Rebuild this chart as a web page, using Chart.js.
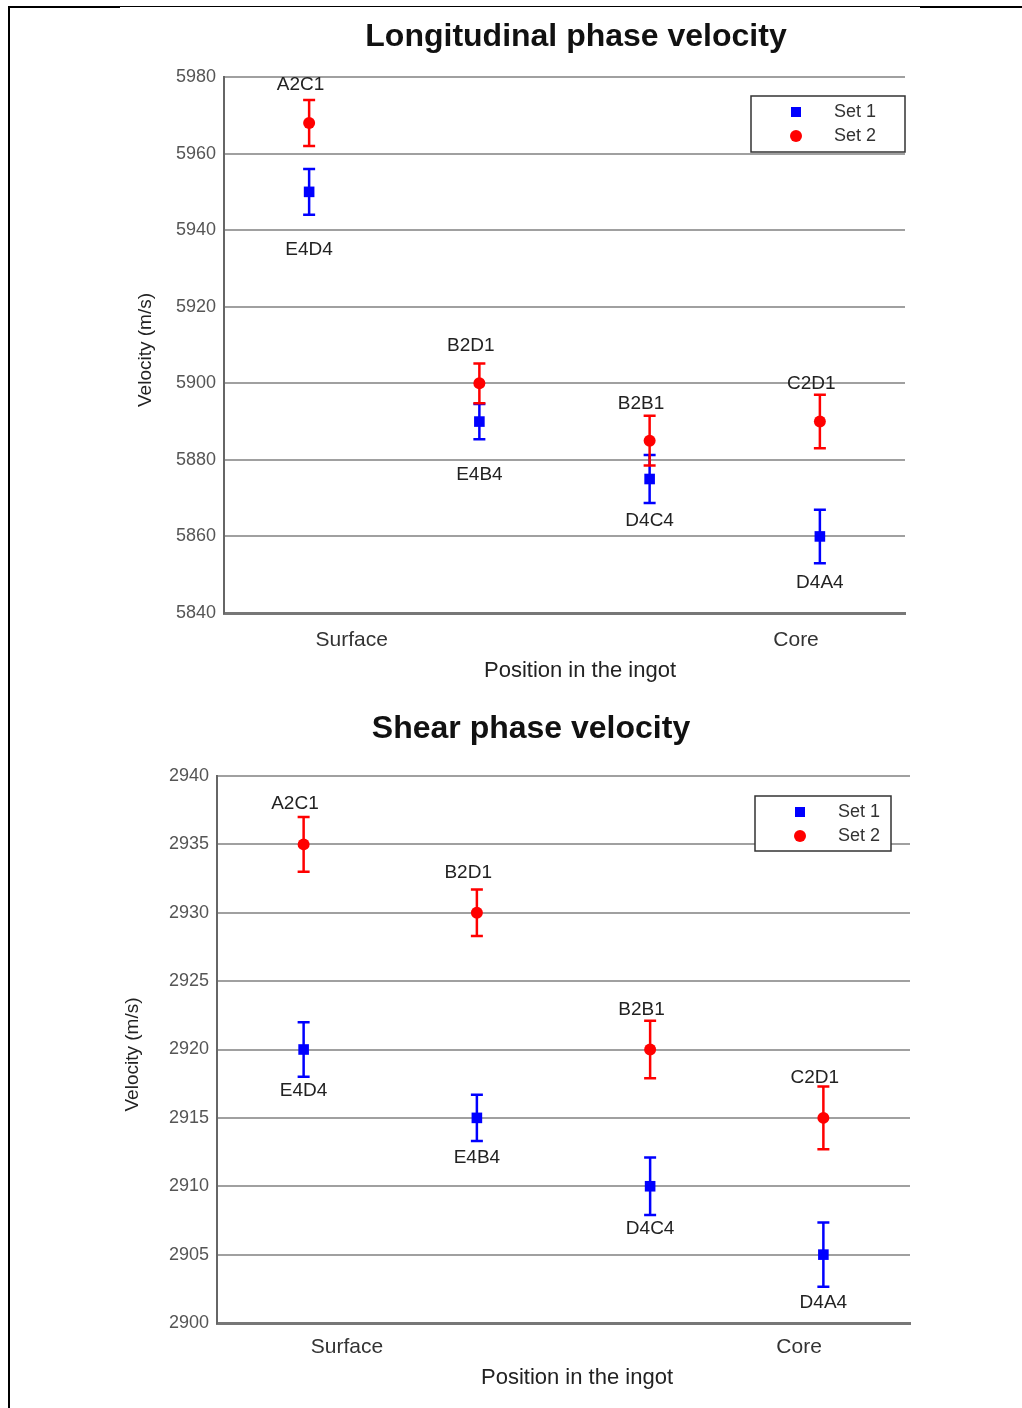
<!DOCTYPE html>
<html>
<head>
<meta charset="utf-8">
<script src="https://cdn.jsdelivr.net/npm/chart.js@4.4.1/dist/chart.umd.min.js"></script>
<style>
html, body { margin: 0; padding: 0; background: #fff; }
body { width: 1022px; height: 1408px; position: relative; overflow: hidden; }
.frame-top { position: absolute; left: 8px; top: 6px; width: 1014px; height: 1px; background: #000; }
.frame-top-l { position: absolute; left: 8px; top: 6px; width: 112px; height: 2px; background: #000; }
.frame-top-r { position: absolute; left: 920px; top: 6px; width: 102px; height: 2px; background: #000; }
.frame-left { position: absolute; left: 8px; top: 6px; width: 2px; height: 1402px; background: #000; }
canvas { position: absolute; left: 0; }
#longChart { top: 0; }
#shearChart { top: 690px; }
</style>
</head>
<body>
<div class="frame-top"></div>
<div class="frame-top-l"></div>
<div class="frame-top-r"></div>
<div class="frame-left"></div>
<canvas id="longChart" width="1022" height="690"></canvas>
<canvas id="shearChart" width="1022" height="718"></canvas>
<script>
// positions along the ingot (1 = outer ... 4 = centre)
const positions = [1, 2, 3, 4];
const regionNames = ['Surface', 'Core'];
const regionTickPos = [1.25, 3.86];
const seriesNames = ['Set 1', 'Set 2'];

// longitudinal velocity (m/s)
const longSet1 = [5950, 5890, 5875, 5860];
const longSet1Err = [6, 4.6, 6.3, 7];
const longSet1Names = ['E4D4', 'E4B4', 'D4C4', 'D4A4'];
const longSet1LabelY = [5934.8, 5876.1, 5864.1, 5847.9];

const longSet2 = [5968, 5900, 5885, 5890];
const longSet2Err = [6, 5.2, 6.5, 7];
const longSet2Names = ['A2C1', 'B2D1', 'B2B1', 'C2D1'];
const longSet2LabelY = [5977.9, 5909.8, 5894.6, 5899.8];

const longTicks = { min: 5840, max: 5980, step: 20 };

// shear velocity (m/s)
const shearSet1 = [2920, 2915, 2910, 2905];
const shearSet1Err = [2, 1.7, 2.1, 2.35];
const shearSet1Names = ['E4D4', 'E4B4', 'D4C4', 'D4A4'];
const shearSet1LabelY = [2917.0, 2912.1, 2906.9, 2901.5];

const shearSet2 = [2935, 2930, 2920, 2915];
const shearSet2Err = [2, 1.7, 2.1, 2.3];
const shearSet2Names = ['A2C1', 'B2D1', 'B2B1', 'C2D1'];
const shearSet2LabelY = [2937.95, 2932.9, 2922.9, 2917.9];

const shearTicks = { min: 2900, max: 2940, step: 5 };

const FONT = '"Liberation Sans", Arial, sans-serif';
const BLUE = '#0000ff', RED = '#ff0000';

// error bars drawn under the markers
const errorBarPlugin = {
    id: 'errorBars',
    beforeDatasetsDraw(chart) {
        const ctx = chart.ctx, ys = chart.scales.y;
        chart.data.datasets.forEach((ds, di) => {
            const meta = chart.getDatasetMeta(di);
            ctx.save();
            ctx.strokeStyle = ds.borderColor;
            ctx.lineWidth = 2.5;
            meta.data.forEach((pt, i) => {
                const v = ds.data[i].y, e = ds.errors[i];
                const top = ys.getPixelForValue(v + e), bot = ys.getPixelForValue(v - e);
                ctx.beginPath();
                ctx.moveTo(pt.x, top); ctx.lineTo(pt.x, bot);
                ctx.moveTo(pt.x - 6, top); ctx.lineTo(pt.x + 6, top);
                ctx.moveTo(pt.x - 6, bot); ctx.lineTo(pt.x + 6, bot);
                ctx.stroke();
            });
            ctx.restore();
        });
    }
};

// sample names next to each point
const pointNamePlugin = {
    id: 'pointNames',
    afterDatasetsDraw(chart) {
        const ctx = chart.ctx, xs = chart.scales.x, ys = chart.scales.y;
        ctx.save();
        ctx.font = '19px ' + FONT;
        ctx.fillStyle = '#222';
        ctx.textAlign = 'center';
        ctx.textBaseline = 'middle';
        chart.data.datasets.forEach(ds => {
            ds.names.forEach((n, i) => {
                const x = xs.getPixelForValue(ds.data[i].x + ds.nameShift);
                const y = ys.getPixelForValue(ds.nameY[i]);
                ctx.fillText(n, x, y);
            });
        });
        ctx.restore();
    }
};

// boxed legend inside the plot, titles
const decorPlugin = {
    id: 'decor',
    afterDraw(chart, args, o) {
        const ctx = chart.ctx, a = chart.chartArea;
        ctx.save();
        // legend box
        const bx = a.right - o.legendRight - o.legendW, by = a.top + o.legendTop;
        ctx.fillStyle = '#fff';
        ctx.fillRect(bx, by, o.legendW, o.legendH);
        ctx.strokeStyle = '#333';
        ctx.lineWidth = 1.5;
        ctx.strokeRect(bx, by, o.legendW, o.legendH);
        ctx.font = '18px ' + FONT;
        ctx.textBaseline = 'middle';
        ctx.textAlign = 'left';
        chart.data.datasets.forEach((ds, i) => {
            const ry = by + 16 + i * 24;
            ctx.fillStyle = ds.backgroundColor;
            if (ds.pointStyle === 'rect') {
                ctx.fillRect(bx + 40, ry - 5, 10, 10);
            } else {
                ctx.beginPath();
                ctx.arc(bx + 45, ry, 6, 0, Math.PI * 2);
                ctx.fill();
            }
            ctx.fillStyle = '#333';
            ctx.fillText(ds.label, bx + 83, ry);
        });
        // main title
        ctx.fillStyle = '#111';
        ctx.textAlign = 'center';
        ctx.font = 'bold 32px ' + FONT;
        ctx.fillText(o.title, o.titleX, o.titleY);
        // axis titles
        ctx.fillStyle = '#222';
        ctx.font = '22px ' + FONT;
        ctx.fillText(o.xTitle, o.xTitleX, o.xTitleY);
        ctx.translate(o.yTitleX, (a.top + a.bottom) / 2 + 5);
        ctx.rotate(-Math.PI / 2);
        ctx.font = '19px ' + FONT;
        ctx.fillText(o.yTitle, 0, 0);
        ctx.restore();
    }
};

function makeChart(id, opt) {
    const mk = (vals, errs, names, labelY, shift, label, color, style) => ({
        label: label,
        data: positions.map((p, i) => ({ x: p, y: vals[i] })),
        errors: errs,
        names: names,
        nameY: labelY,
        nameShift: shift,
        backgroundColor: color,
        borderColor: color,
        pointStyle: style,
        pointRadius: style === 'rect' ? 7.5 : 6,
        pointBorderWidth: 0,
        showLine: false
    });
    return new Chart(document.getElementById(id), {
        type: 'scatter',
        data: {
            datasets: [
                mk(opt.s1, opt.e1, opt.n1, opt.l1, 0, seriesNames[0], BLUE, 'rect'),
                mk(opt.s2, opt.e2, opt.n2, opt.l2, -0.05, seriesNames[1], RED, 'circle')
            ]
        },
        options: {
            responsive: false,
            devicePixelRatio: 1,
            animation: false,
            events: [],
            layout: { padding: opt.pad },
            plugins: {
                legend: { display: false },
                tooltip: { enabled: false },
                decor: opt.decor
            },
            scales: {
                x: {
                    type: 'linear',
                    min: 0.5, max: 4.5,
                    afterBuildTicks: s => { s.ticks = regionTickPos.map(v => ({ value: v })); },
                    afterFit: s => { s.height = 60; },
                    grid: { display: false, drawTicks: false },
                    border: { display: true, color: '#777', width: 3 },
                    ticks: {
                        autoSkip: false, maxRotation: 0,
                        padding: opt.xPad,
                        color: '#333',
                        font: { family: FONT, size: 21 },
                        callback: (v, i) => regionNames[i]
                    }
                },
                y: {
                    min: opt.ticks.min, max: opt.ticks.max,
                    afterFit: s => { s.width = 100; },
                    grid: { color: '#a0a0a0', lineWidth: 2, drawTicks: false },
                    border: { display: true, color: '#666', width: 2 },
                    ticks: {
                        stepSize: opt.ticks.step,
                        padding: 8,
                        color: '#555',
                        font: { family: FONT, size: 18 },
                        callback: v => String(v)
                    }
                }
            }
        },
        plugins: [errorBarPlugin, pointNamePlugin, decorPlugin]
    });
}

makeChart('longChart', {
    s1: longSet1, e1: longSet1Err, n1: longSet1Names, l1: longSet1LabelY,
    s2: longSet2, e2: longSet2Err, n2: longSet2Names, l2: longSet2LabelY,
    ticks: longTicks,
    pad: { left: 124, right: 117, top: 77, bottom: 17 },
    xPad: 15,
    decor: {
        title: 'Longitudinal phase velocity', titleX: 576, titleY: 37,
        xTitle: 'Position in the ingot', xTitleX: 580, xTitleY: 671,
        yTitle: 'Velocity (m/s)', yTitleX: 146,
        legendRight: 0, legendTop: 19, legendW: 154, legendH: 56
    }
});

makeChart('shearChart', {
    s1: shearSet1, e1: shearSet1Err, n1: shearSet1Names, l1: shearSet1LabelY,
    s2: shearSet2, e2: shearSet2Err, n2: shearSet2Names, l2: shearSet2LabelY,
    ticks: shearTicks,
    pad: { left: 117, right: 112, top: 86, bottom: 25 },
    xPad: 12,
    decor: {
        title: 'Shear phase velocity', titleX: 531, titleY: 39,
        xTitle: 'Position in the ingot', xTitleX: 577, xTitleY: 688,
        yTitle: 'Velocity (m/s)', yTitleX: 133,
        legendRight: 19, legendTop: 20, legendW: 136, legendH: 55
    }
});
</script>
</body>
</html>
